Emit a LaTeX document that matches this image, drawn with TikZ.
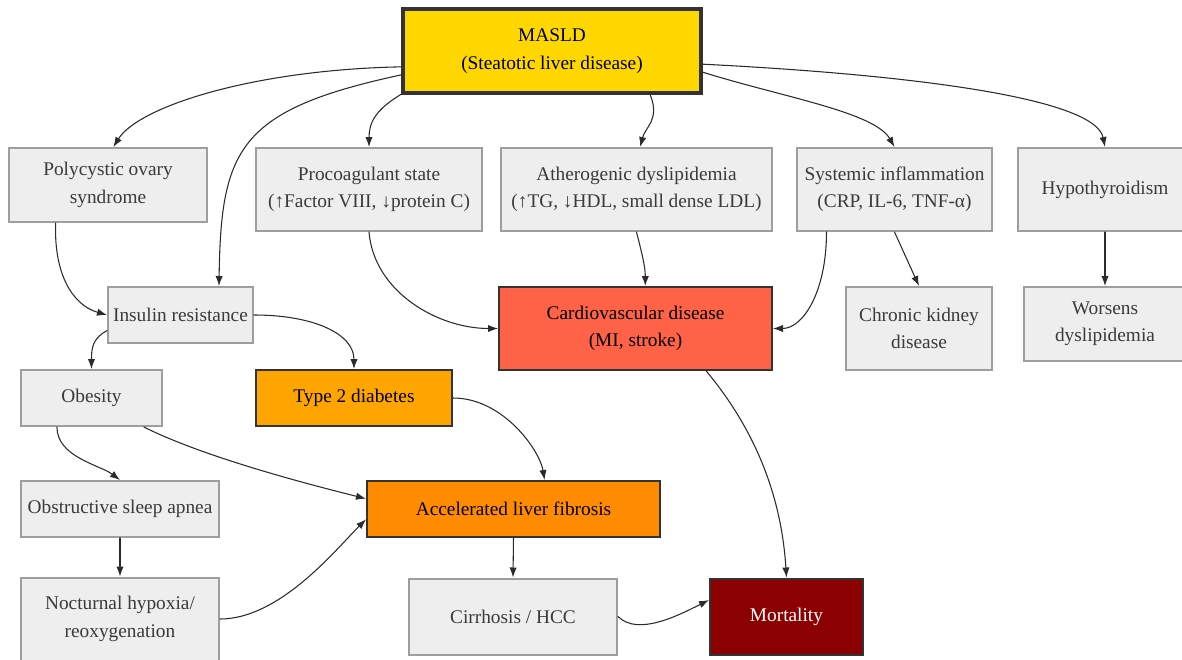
\documentclass[tikz,border=0pt]{standalone}
\usepackage{fontspec}
\usetikzlibrary{arrows.meta}
\definecolor{FigureGold}{HTML}{FFD700}
\definecolor{FigureTomato}{HTML}{FF6347}
\definecolor{FigureAmber}{HTML}{FFA500}
\definecolor{FigureOrange}{HTML}{FF8C00}
\definecolor{FigureMaroon}{HTML}{8B0000}
\definecolor{FigureGray}{HTML}{EEEEEE}
\definecolor{FigureFrame}{HTML}{9E9E9E}
\definecolor{FigureDark}{HTML}{333333}
\definecolor{FigureInk}{HTML}{3A3A3A}
\definecolor{FigureLink}{HTML}{2B2B2B}

\begin{document}
\begin{tikzpicture}[x=0.75pt,y=-0.75pt,line cap=round,line join=round,
  sz/.style 2 args={minimum width=#1*0.75pt,minimum height=#2*0.75pt},
  box/.style={draw=FigureFrame,fill=FigureGray,line width=1.5pt,line join=miter,text=FigureInk,
    align=center,inner sep=2pt,font={\fontspec{Liberation Serif}\fontsize{14.5}{20.5}\selectfont}},
  hot/.style={box,draw=FigureDark,text=black},
  link/.style={draw=FigureLink,line width=0.8pt,-{Latex[length=7.5pt,width=5.5pt]}}]
  \useasboundingbox (0,0) rectangle (1182,660);
  % nodes, row by row
  \node[hot,fill=FigureGold,line width=2.6pt,sz={298}{84}] (masld) at (552,51) {MASLD\\(Steatotic liver disease)};
  \node[box,sz={198}{74}] (pcos) at (108,185) {Polycystic ovary\\syndrome};
  \node[box,sz={226}{83}] (proco) at (369,189.5) {Procoagulant state\\(↑Factor VIII, ↓protein C)};
  \node[box,sz={271}{83}] (athero) at (636.5,189.5) {Atherogenic dyslipidemia\\(↑TG, ↓HDL, small dense LDL)};
  \node[box,sz={195}{83}] (inflam) at (894.5,189.5) {Systemic inflammation\\(CRP, IL-6, TNF-α)};
  \node[box,sz={174}{83}] (hypo) at (1105,189.5) {Hypothyroidism};
  \node[box,sz={145}{56}] (insulin) at (180.5,315) {Insulin resistance};
  \node[hot,fill=FigureTomato,sz={273}{83}] (cvd) at (635.5,328.5) {Cardiovascular disease\\(MI, stroke)};
  \node[box,sz={146}{83}] (ckd) at (919,328.5) {Chronic kidney\\disease};
  \node[box,sz={162}{74}] (worse) at (1105,324) {Worsens\\dyslipidemia};
  \node[box,sz={141}{56}] (obesity) at (91.5,398) {Obesity};
  \node[hot,fill=FigureAmber,sz={196}{56}] (t2d) at (354,398) {Type 2 diabetes};
  \node[box,sz={198}{56}] (osa) at (120,509) {Obstructive sleep apnea};
  \node[hot,fill=FigureOrange,sz={293}{56}] (fibrosis) at (513.5,509) {Accelerated liver fibrosis};
  \node[box,sz={198}{83}] (hypoxia) at (120,619) {Nocturnal hypoxia/\\reoxygenation};
  \node[box,sz={208}{76}] (cirrhosis) at (513,616.5) {Cirrhosis / HCC};
  \node[hot,fill=FigureMaroon,text=white,sz={153}{76}] (mort) at (786.5,616.5) {Mortality};
  % links out of MASLD
  \draw[link] (masld.186) .. controls +(-150,3) and +(25,-40) .. (pcos.82);
  \draw[link] (masld.189) .. controls +(-163,35) and +(2,-137) .. (insulin.37);
  \draw[link] (masld.196) .. controls +(-25,15) and +(0,-25) .. (proco.north);
  \draw[link] (masld.-24) .. controls +(10,25) and +(5,-20) .. (athero.85);
  \draw[link] (masld.-8) .. controls +(80,25) and +(-20,-35) .. (inflam.north);
  \draw[link] (masld.-5) .. controls +(200,10) and +(-10,-50) .. (hypo.north);
  % lower links
  \draw[link] (pcos.216) .. controls +(-2,50) and +(-35,-10) .. (insulin.west);
  \draw[link] (proco.south) .. controls +(5,60) and +(-60,0) .. (cvd.west);
  \draw[link] (athero.south) .. controls +(5,20) and +(0,-20) .. (cvd.77);
  \draw[link] (inflam.212) .. controls +(0,60) and +(30,0) .. (cvd.east);
  \draw[link] (insulin.192) .. controls +(-15,8) and +(0,-20) .. (obesity.north);
  \draw[link] (insulin.east) .. controls +(60,0) and +(0,-35) .. (t2d.north);
  \draw[link] (obesity.220) .. controls +(0,30) and +(-20,-15) .. (osa.north);
  \draw[link] (obesity.-29) .. controls +(60,30) and +(-60,-15) .. (fibrosis.176);
  \draw[link] (t2d.east) .. controls +(50,0) and +(-5,-30) .. (fibrosis.43);
  \draw[link] (hypoxia.east) .. controls +(60,0) and +(-30,30) .. (fibrosis.184);
  \draw[link] (cirrhosis.east) .. controls +(20,20) and +(-30,15) .. (mort.168);
  \draw[link] (cvd.-31) .. controls +(50,60) and +(-5,-80) .. (mort.north);
  \foreach \a/\b in {inflam/ckd,hypo/worse,osa/hypoxia,fibrosis/cirrhosis}
    \draw[link] (\a.south) -- (\b.north);
\end{tikzpicture}
\end{document}
